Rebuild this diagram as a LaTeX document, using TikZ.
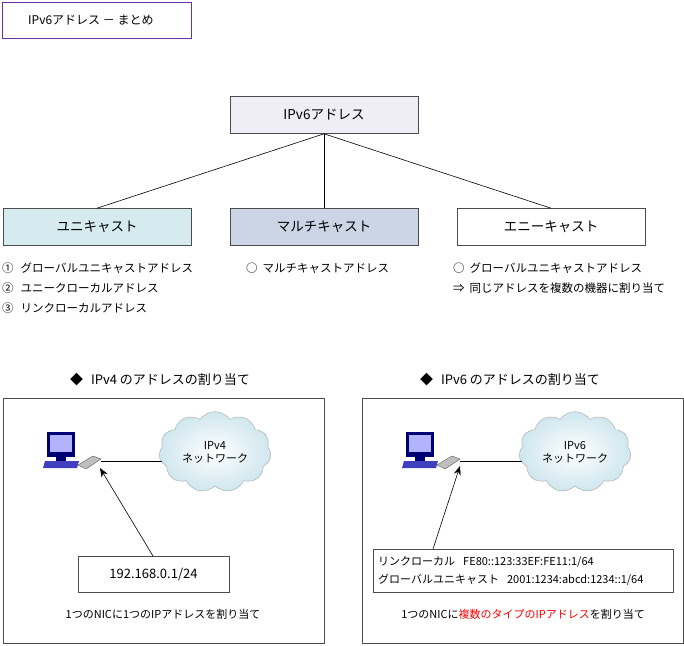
\documentclass[tikz,border=0pt]{standalone}
\usepackage{fontspec}
\setmainfont{Noto Sans CJK JP}
\usetikzlibrary{shapes.symbols,arrows.meta}
\definecolor{lav}{HTML}{EFEDF5}
\definecolor{uni}{HTML}{D5EBF0}
\definecolor{mul}{HTML}{CCD5E5}
\definecolor{ttl}{HTML}{7030A0}
\definecolor{cld}{HTML}{CFE6EE}
\begin{document}
\begin{tikzpicture}[x=1pt,y=-1pt,
  box/.style={draw=black!70,line width=0.6pt,minimum height=37pt,minimum width=188pt,inner sep=0pt,font=\fontsize{13.5}{15}\selectfont},
  txt/.style={font=\fontsize{11.5}{13}\selectfont,anchor=west,inner sep=0pt},
  hd/.style={font=\fontsize{13}{15}\selectfont,inner sep=0pt},
  panel/.style={draw=black!70,line width=0.6pt},
  conn/.style={draw=black,line width=0.6pt},
  cloudn/.style={cloud,cloud puffs=11,cloud puff arc=110,aspect=1.5,draw=gray!70,inner color=white,outer color=cld,minimum width=112pt,minimum height=76pt,align=center,font=\fontsize{11}{13}\selectfont}]
\useasboundingbox (0,0) rectangle (684,645);
\node[draw=ttl,line width=0.8pt,minimum width=189pt,minimum height=36pt,inner sep=0pt] (title) at (96.5,20) {};
\node[font=\fontsize{12}{14}\selectfont,anchor=west,inner sep=0pt] (tt) at (28,20) {IPv6アドレス － まとめ};
\node[box,fill=lav] (root) at (324,115) {IPv6アドレス};
\node[box,fill=uni] (u) at (97,227) {ユニキャスト};
\node[box,fill=mul] (m) at (324,227) {マルチキャスト};
\node[box,fill=white] (a) at (551,227) {エニーキャスト};
\draw[conn] (root.south) -- (u.north);
\draw[conn] (root.south) -- (m.north);
\draw[conn] (root.south) -- (a.north);
\node[txt] (u1) at (2,268) {①\hspace{7pt}グローバルユニキャストアドレス};
\node[txt] (u2) at (2,288) {②\hspace{7pt}ユニークローカルアドレス};
\node[txt] (u3) at (2,308) {③\hspace{7pt}リンクローカルアドレス};
\node[txt] (m1) at (246,268) {○\hspace{5pt}マルチキャストアドレス};
\node[txt] (a1) at (453,268) {○\hspace{5pt}グローバルユニキャストアドレス};
\node[txt] (a2) at (453,288) {⇒\hspace{5pt}同じアドレスを複数の機器に割り当て};
% panels
\node[hd] (h4) at (160,380) {◆\hspace{8pt}IPv4 のアドレスの割り当て};
\node[hd] (h6) at (510,380) {◆\hspace{8pt}IPv6 のアドレスの割り当て};
\draw[panel] (3,398) rectangle (324,643);
\draw[panel] (362,398) rectangle (683,643);
% PCs
\foreach \n/\ox in {pc4/45,pc6/404}{
 \begin{scope}[shift={(\ox,432)}]
  \fill[blue!45!black] (2,0) rectangle (30,25);
  \fill[blue!30!white] (5,3) rectangle (27,20);
  \fill[blue!45!black] (11,25) rectangle (21,29);
  \fill[blue!50!gray] (0,29) -- (34,29) -- (32,36) -- (-2,36) -- cycle;
  \fill[gray!50] (33,33) -- (48,24) -- (56,27) -- (41,37) -- cycle;
  \draw[gray!70!black,line width=0.4pt] (33,33) -- (48,24) -- (56,27) -- (41,37) -- cycle;
  \coordinate (\n) at (56,29);
 \end{scope}}
\node[cloudn] (c4) at (215,452) {IPv4\\ネットワーク};
\node[cloudn] (c6) at (575,452) {IPv6\\ネットワーク};
\coordinate (e4) at (162,461);
\coordinate (e6) at (522,461);
\draw[conn] (pc4) -- (pc4 -| e4);
\draw[conn] (pc6) -- (pc6 -| e6);
\node[draw=black!70,line width=0.6pt,minimum width=151pt,minimum height=36pt,font=\fontsize{13}{15}\selectfont] (ip4) at (153.5,574) {192.168.0.1/24};
\node[draw=black!70,line width=0.6pt,minimum width=300pt,minimum height=43pt,inner sep=0pt] (ip6) at (523,570.5) {};
\node[txt,font=\fontsize{11}{13}\selectfont] (l1) at (378,562) {リンクローカル\hspace{8pt}FE80::123:33EF:FE11:1/64};
\node[txt,font=\fontsize{11}{13}\selectfont] (l2) at (378,580) {グローバルユニキャスト\hspace{8pt}2001:1234:abcd:1234::1/64};
\coordinate (t4) at (100,468);
\coordinate (t6) at (460,466);
\draw[conn,-{Stealth[length=9pt,width=7pt]}] (153,556) -- (t4);
\draw[conn,-{Stealth[length=9pt,width=7pt]}] (433,549) -- (t6);
\node[font=\fontsize{11}{13}\selectfont] (cap4) at (163,614) {1つのNICに1つのIPアドレスを割り当て};
\node[font=\fontsize{11}{13}\selectfont] (cap6) at (523,614) {1つのNICに\textcolor{red}{複数のタイプのIPアドレス}を割り当て};
\end{tikzpicture}
\end{document}
